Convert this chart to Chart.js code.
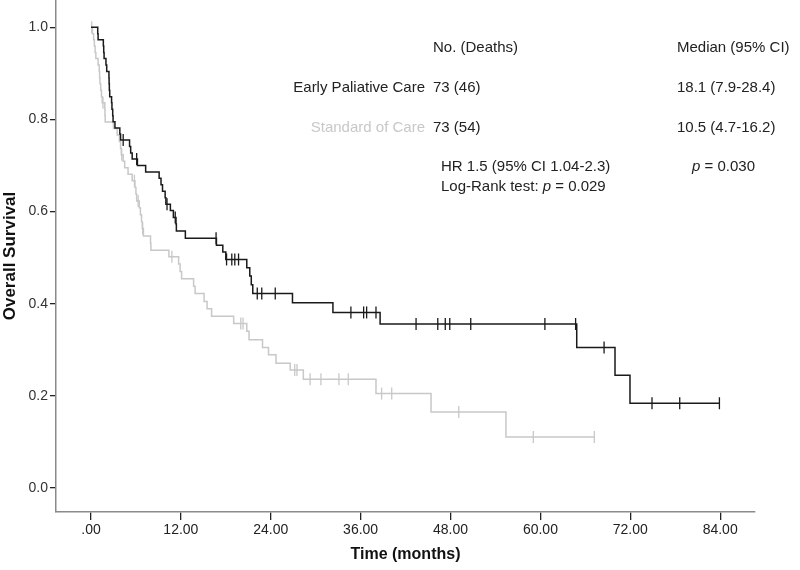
<!DOCTYPE html>
<html>
<head>
<meta charset="utf-8">
<script src="https://cdn.jsdelivr.net/npm/chart.js@4.4.0/dist/chart.umd.min.js"></script>
<style>
  html, body { margin: 0; padding: 0; background: #fff; }
</style>
</head>
<body>
<canvas id="kmChart" width="800" height="570"></canvas>
<script>
// Kaplan-Meier curves
const xTicks = [0, 12, 24, 36, 48, 60, 72, 84];
const yTicks = [0, 0.2, 0.4, 0.6, 0.8, 1.0];

// Early Paliative Care (black): event times and survival after each event
const earlyTimes = [0, 0.9, 0.95, 1.65, 1.7, 1.75, 2.0, 2.1, 2.4, 2.42, 2.45, 2.5, 2.75, 2.8, 2.9, 2.95, 3.2,
    3.85, 3.95, 5.15, 5.3, 5.5, 6.2, 7.3, 9.1, 9.35, 9.55, 9.9, 10.0, 10.6, 11.0, 11.35, 11.4, 12.6, 16.75,
    17.6, 18.0, 20.8, 21.2, 21.4, 21.6, 26.9, 32.3, 38.6, 64.85, 69.96, 71.96];
const earlySurv = [1.0, 0.986, 0.973, 0.959, 0.945, 0.932, 0.918, 0.904, 0.890, 0.877, 0.863, 0.849, 0.836, 0.822,
    0.808, 0.795, 0.781, 0.768, 0.755, 0.741, 0.727, 0.714, 0.700, 0.686, 0.672, 0.658, 0.644, 0.630, 0.616, 0.602,
    0.587, 0.573, 0.558, 0.542, 0.527, 0.512, 0.496, 0.478, 0.460, 0.441, 0.422, 0.402, 0.381, 0.356, 0.305, 0.245, 0.184];
const earlyCensored = [4.3, 6.1, 10.15, 11.25, 16.7, 18.1, 18.8, 19.2, 19.7, 22.2, 22.8, 24.6, 34.7, 36.4, 36.8,
    38.05, 43.4, 46.3, 47.3, 47.9, 50.7, 60.6, 64.7, 68.5, 74.9, 78.6, 83.9];

// Standard of Care (grey)
const stdTimes = [0, 0.2, 0.35, 0.45, 0.55, 0.65, 0.95, 1.1, 1.15, 1.2, 1.3, 1.4, 1.5, 1.85, 1.87, 1.9, 3.0, 3.5,
    3.8, 3.95, 4.05, 4.3, 4.5, 4.95, 5.5, 5.87, 6.0, 6.1, 6.45, 6.6, 6.75, 6.85, 7.0, 7.95, 8.0, 10.4, 11.7, 11.9,
    12.1, 13.7, 13.9, 15.1, 15.5, 16.1, 19.05, 20.8, 21.1, 22.9, 23.7, 24.7, 26.6, 28.35, 38.05, 45.4, 55.4];
const stdSurv = [1.0, 0.986, 0.973, 0.959, 0.945, 0.932, 0.918, 0.904, 0.890, 0.877, 0.863, 0.849, 0.836, 0.822,
    0.808, 0.794, 0.780, 0.766, 0.752, 0.737, 0.723, 0.709, 0.695, 0.681, 0.667, 0.652, 0.638, 0.623, 0.608, 0.593,
    0.578, 0.563, 0.547, 0.531, 0.516, 0.502, 0.486, 0.470, 0.454, 0.438, 0.422, 0.405, 0.389, 0.373, 0.357, 0.340,
    0.322, 0.305, 0.289, 0.271, 0.256, 0.236, 0.205, 0.165, 0.111];
const stdCensored = [0.1, 1.6, 4.1, 5.8, 6.3, 6.9, 10.8, 20.0, 20.3, 27.2, 27.5, 29.25, 30.7, 33.1, 34.35, 38.8,
    40.15, 49.1, 59.05, 67.2];

const BLACK = '#1a1a1a';
const GREY = '#c8c8c8';
const SANS = '"Liberation Sans", Arial, sans-serif';

// survival value of the step curve at time t
function survAt(times, surv, t) {
    let s = surv[0];
    for (let i = 0; i < times.length; i++) {
        if (times[i] <= t) s = surv[i];
    }
    return s;
}

function stepLine(times, surv, censored) {
    const pts = times.map((t, i) => ({ x: t, y: surv[i] }));
    const last = censored[censored.length - 1];
    pts.push({ x: last, y: survAt(times, surv, last) });
    return pts;
}

function censorPoints(times, surv, censored) {
    return censored.map(t => ({ x: t, y: survAt(times, surv, t) }));
}

// text block in the upper right
function drawRuns(ctx, x, y, runs, size) {
    runs.forEach(function(r) {
        ctx.font = (r[1] ? 'italic ' : '') + size + 'px ' + SANS;
        ctx.fillText(r[0], x, y);
        x += ctx.measureText(r[0]).width;
    });
}

const notesPlugin = {
    id: 'notes',
    afterDraw(chart) {
        const ctx = chart.ctx;
        const fs = 15;
        ctx.save();
        ctx.textBaseline = 'middle';
        ctx.fillStyle = '#222';
        ctx.font = fs + 'px ' + SANS;
        ctx.textAlign = 'left';
        ctx.fillText('No. (Deaths)', 433, 48);
        ctx.fillText('Median (95% CI)', 677, 48);
        ctx.fillText('73 (46)', 433, 88);
        ctx.fillText('18.1 (7.9-28.4)', 677, 88);
        ctx.fillText('73 (54)', 433, 128);
        ctx.fillText('10.5 (4.7-16.2)', 677, 128);
        ctx.textAlign = 'right';
        ctx.fillText('Early Paliative Care', 425, 88);
        ctx.fillStyle = GREY;
        ctx.fillText('Standard of Care', 425, 128);
        ctx.fillStyle = '#222';
        ctx.textAlign = 'left';
        ctx.fillText('HR 1.5 (95% CI 1.04-2.3)', 441, 167);
        drawRuns(ctx, 441, 187, [['Log-Rank test: ', false], ['p', true], [' = 0.029', false]], fs);
        drawRuns(ctx, 692, 167, [['p', true], [' = 0.030', false]], fs);
        ctx.restore();
    }
};

document.addEventListener('DOMContentLoaded', function() {
    const ctx = document.getElementById('kmChart');
    new Chart(ctx, {
        type: 'scatter',
        data: {
            datasets: [
                {
                    label: 'Standard of Care',
                    data: stepLine(stdTimes, stdSurv, stdCensored),
                    showLine: true,
                    stepped: 'before',
                    borderColor: GREY,
                    borderWidth: 1.5,
                    pointRadius: 0,
                    order: 4
                },
                {
                    label: 'Standard of Care censored',
                    data: censorPoints(stdTimes, stdSurv, stdCensored),
                    showLine: false,
                    pointStyle: 'line',
                    rotation: 90,
                    pointRadius: 6,
                    borderColor: GREY,
                    borderWidth: 1.3,
                    order: 3
                },
                {
                    label: 'Early Paliative Care',
                    data: stepLine(earlyTimes, earlySurv, earlyCensored),
                    showLine: true,
                    stepped: 'before',
                    borderColor: BLACK,
                    borderWidth: 1.5,
                    pointRadius: 0,
                    order: 2
                },
                {
                    label: 'Early Paliative Care censored',
                    data: censorPoints(earlyTimes, earlySurv, earlyCensored),
                    showLine: false,
                    pointStyle: 'line',
                    rotation: 90,
                    pointRadius: 6,
                    borderColor: BLACK,
                    borderWidth: 1.3,
                    order: 1
                }
            ]
        },
        options: {
            responsive: false,
            animation: false,
            layout: {
                autoPadding: false,
                padding: { left: 0, right: 45, top: 0, bottom: 0 }
            },
            plugins: {
                legend: { display: false },
                tooltip: { enabled: false }
            },
            scales: {
                x: {
                    type: 'linear',
                    min: -4.67,
                    max: 88.65,
                    afterBuildTicks: function(axis) {
                        axis.ticks = xTicks.map(v => ({ value: v }));
                    },
                    afterFit: function(axis) {
                        axis.height = 58;
                        axis.paddingLeft = 0;
                        axis.paddingRight = 0;
                    },
                    grid: {
                        drawOnChartArea: false,
                        drawTicks: true,
                        tickLength: 8,
                        color: '#222',
                        lineWidth: 1.3
                    },
                    border: { color: '#8a8a8a', width: 1.5 },
                    ticks: {
                        padding: 2,
                        color: '#222',
                        font: { family: SANS, size: 14 },
                        maxRotation: 0,
                        callback: function(value) {
                            const s = value.toFixed(2);
                            return value === 0 ? s.slice(1) : s;
                        }
                    },
                    title: {
                        display: true,
                        text: 'Time (months)',
                        color: '#111',
                        font: { family: SANS, size: 16, weight: 'bold' },
                        padding: { top: 4, bottom: 6 }
                    }
                },
                y: {
                    min: -0.052,
                    max: 1.059,
                    afterBuildTicks: function(axis) {
                        axis.ticks = yTicks.map(v => ({ value: v }));
                    },
                    afterFit: function(axis) {
                        axis.width = 56;
                        axis.paddingTop = 0;
                        axis.paddingBottom = 0;
                    },
                    grid: {
                        drawOnChartArea: false,
                        drawTicks: true,
                        tickLength: 6,
                        color: '#222',
                        lineWidth: 1.3
                    },
                    border: { color: '#8a8a8a', width: 1.5 },
                    ticks: {
                        padding: 2,
                        color: '#333',
                        font: { family: SANS, size: 14 },
                        callback: function(value) {
                            return value.toFixed(1);
                        }
                    },
                    title: {
                        display: true,
                        text: 'Overall Survival',
                        color: '#111',
                        font: { family: SANS, size: 17, weight: 'bold' },
                        padding: { top: 0, bottom: 2 }
                    }
                }
            }
        },
        plugins: [notesPlugin]
    });
});
</script>
</body>
</html>
